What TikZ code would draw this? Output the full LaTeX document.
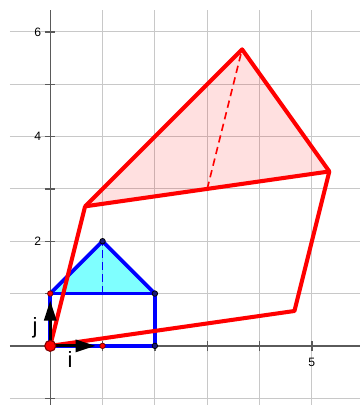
\documentclass[tikz,border=0pt]{standalone}
\usepackage{fontspec}
\setmainfont{Liberation Sans}
\usepackage{tikz}
\usetikzlibrary{arrows.meta}
\definecolor{gridgray}{RGB}{200,200,200}
\definecolor{axisgray}{RGB}{90,90,90}
\definecolor{dotnavy}{RGB}{25,25,120}
\definecolor{roofcyan}{RGB}{0,255,255}
\definecolor{imgred}{RGB}{255,0,0}

\begin{document}
\begin{tikzpicture}[
  gridline/.style={draw=gridgray, line width=0.55pt},
  axisline/.style={draw=axisgray, line width=0.75pt},
  ticklabel/.style={font=\fontsize{6.6}{8}\selectfont, inner sep=0pt},
  veclabel/.style={font=\fontsize{12}{14}\selectfont, inner sep=0pt},
  house/.style={draw=blue, line width=2pt, line join=round},
  image/.style={draw=imgred, line width=2.2pt, line join=round},
  helper/.style={line width=0.9pt, dash pattern=on 4pt off 2.5pt},
  vec/.style={-{Triangle[length=11pt,width=6.5pt]}, line width=1.7pt, black, shorten >=3.7pt},
  reddot/.style={circle, fill=imgred, draw=red!45!black, line width=0.4pt, inner sep=0pt, minimum size=3pt},
  bluedot/.style={circle, fill=dotnavy, draw=black, line width=0.4pt, inner sep=0pt, minimum size=3pt},
  origindot/.style={circle, fill=imgred, draw=red!50!black, line width=0.6pt, inner sep=0pt, minimum size=6pt},
]
\useasboundingbox (-0.96,-1.13) rectangle (5.92,6.61);

% --- Grid ---
\foreach \x in {0,...,5} \draw[gridline] (\x,-1.13) -- (\x,6.42);
\foreach \y in {-1,...,6} \draw[gridline] (-0.77,\y) -- (5.92,\y);

% --- Axes ---
\draw[axisline] (-0.77,0) -- (5.92,0);
\draw[axisline] (0,-1.13) -- (0,6.42);
\foreach \x in {1,...,5} \draw[axisline] (\x,-0.09) -- (\x,0.09);
\foreach \y in {-1,1,2,3,4,5,6} \draw[axisline] (-0.1,\y) -- (0.1,\y);
\node[ticklabel] (lab2) at (-0.24,2) {2};
\node[ticklabel] (lab4) at (-0.24,4) {4};
\node[ticklabel] (lab6) at (-0.24,6) {6};
\node[ticklabel] (lab5) at (5,-0.31) {5};

% --- House vertices ---
\coordinate (O) at (0,0);
\coordinate (E) at (1,0);
\coordinate (P) at (2,0);
\coordinate (Q) at (2,1);
\coordinate (R) at (1,2);
\coordinate (S) at (0,1);
\coordinate (M) at (1,1);

% --- Image vertices ---
\coordinate (Pt) at ({14/3},{2/3});
\coordinate (Qt) at ({16/3},{10/3});
\coordinate (Rt) at ({11/3},{17/3});
\coordinate (St) at ({2/3},{8/3});
\coordinate (Mt) at (3,3);

% --- Roofs ---
\fill[roofcyan, fill opacity=0.5] (S) -- (R) -- (Q) -- cycle;
\fill[imgred, fill opacity=0.12] (St) -- (Rt) -- (Qt) -- cycle;

% --- Blue house ---
\draw[house] (O) -- (P) -- (Q) -- (S) -- cycle;
\draw[house] (S) -- (R) -- (Q);
\draw[helper, blue] (M) -- (R);

% --- Red image ---
\draw[image] (O) -- (Pt) -- (Qt) -- (St) -- cycle;
\draw[image] (St) -- (Rt) -- (Qt);
\draw[helper, imgred] (Mt) -- (Rt);

% --- Basis vectors ---
\draw[vec] (O) -- (E);
\draw[vec] (O) -- (S);
\node[veclabel] (ilab) at (0.38,-0.27) {i};
\node[veclabel] (jlab) at (-0.29,0.35) {j};

% --- Points ---
\node[bluedot] (q) at (Q) {};
\node[bluedot] (r) at (R) {};
\node[bluedot] (p) at (P) {};
\node[reddot] (e) at (E) {};
\node[reddot] (s) at (S) {};
\node[origindot] (o) at (O) {};

\end{tikzpicture}
\end{document}
